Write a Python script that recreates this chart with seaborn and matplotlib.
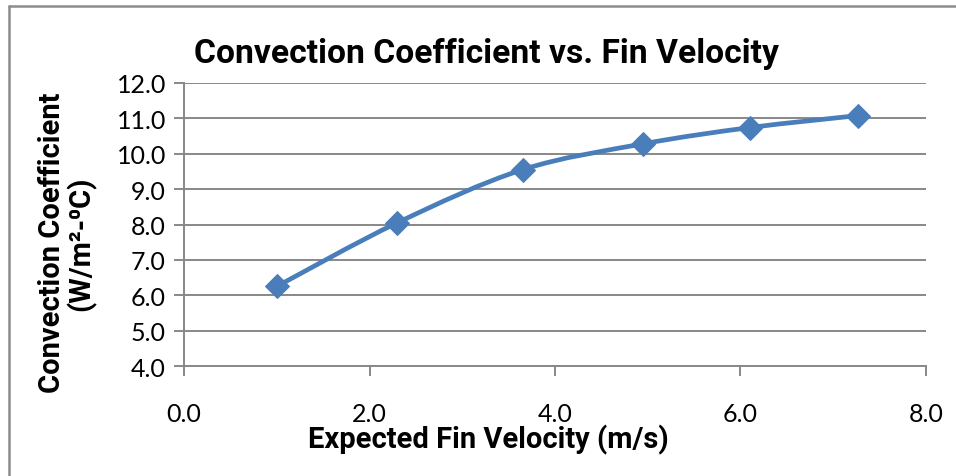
import numpy as np
import pandas as pd
import seaborn as sns
import matplotlib.pyplot as plt
from matplotlib.path import Path
from matplotlib.patches import PathPatch
from matplotlib.lines import Line2D

velocity = [1.0, 2.3, 3.65, 4.95, 6.1, 7.27]
coefficient = [6.25, 8.05, 9.55, 10.28, 10.74, 11.08]
x_ticks = [0.0, 2.0, 4.0, 6.0, 8.0]
y_ticks = [4.0, 5.0, 6.0, 7.0, 8.0, 9.0, 10.0, 11.0, 12.0]

title = "Convection Coefficient vs. Fin Velocity"
xlabel = "Expected Fin Velocity (m/s)"
ylabel = "Convection Coefficient\n(W/m\u00b2-\u2070C)"

sns.set_theme(style="white")
plt.rcParams['font.family'] = ['Lato', 'DejaVu Sans']
plt.rcParams['text.color'] = 'black'
BOLD = ['Roboto', 'DejaVu Sans']

BLUE = "#4A7EBB"
GRID = "#888888"

df = pd.DataFrame({"v": velocity, "h": coefficient})

fig = plt.figure(figsize=(9.56, 4.77), dpi=100)
ax = fig.add_axes([0.1925, 0.2306, 0.7761, 0.5933])

# smoothed line (Catmull-Rom -> Bezier), built from the data arrays
P = np.column_stack([velocity, coefficient])
verts = [P[0]]
codes = [Path.MOVETO]
n = len(P)
for i in range(n - 1):
    p0 = P[i - 1] if i > 0 else P[i]
    p1 = P[i]
    p2 = P[i + 1]
    p3 = P[i + 2] if i + 2 < n else P[i + 1]
    c1 = p1 + (p2 - p0) / 6.0
    c2 = p2 - (p3 - p1) / 6.0
    verts += [c1, c2, p2]
    codes += [Path.CURVE4] * 3
ax.add_patch(PathPatch(Path(verts, codes), facecolor="none", edgecolor=BLUE,
                       lw=3.4, capstyle="round", joinstyle="round", zorder=3))

sns.lineplot(data=df, x="v", y="h", ax=ax, marker="D", markersize=12.5,
             linestyle="none", color=BLUE, markeredgecolor=BLUE, zorder=4)

ax.set_xlim(0, 8)
ax.set_ylim(4, 12)
ax.set_xticks(x_ticks)
ax.set_yticks(y_ticks)
ax.set_xticklabels([f"{t:.1f}" for t in x_ticks])
ax.set_yticklabels([f"{t:.1f}" for t in y_ticks])

ax.yaxis.grid(True, color=GRID, lw=1.4)
ax.xaxis.grid(False)
for s in ["top", "right"]:
    ax.spines[s].set_visible(False)
for s in ["left", "bottom"]:
    ax.spines[s].set_color(GRID)
    ax.spines[s].set_linewidth(1.4)

ax.tick_params(axis="x", which="major", direction="out", length=7, width=1.4,
               color=GRID, pad=19, labelsize=18, labelcolor="black", bottom=True)
ax.tick_params(axis="y", which="major", direction="out", length=7, width=1.4,
               color=GRID, pad=6, labelsize=18, labelcolor="black", left=True)

ax.set_xlabel("")
ax.set_ylabel("")

fig.text(0.509, 0.886, title, ha="center", va="center", fontsize=24.2,
         fontweight="bold", family=BOLD, color="black")
fig.text(0.511, 0.078, xlabel, ha="center", va="center", fontsize=21,
         fontweight="bold", family=BOLD, color="black")
fig.text(0.07, 0.49, ylabel, ha="center", va="center", rotation=90, fontsize=21,
         fontweight="bold", family=BOLD, linespacing=1.0, color="black")

# outer chart frame (cropped)
fig.add_artist(Line2D([0.0095, 0.0095], [0, 0.986], transform=fig.transFigure,
                      color="#8c8c8c", lw=1.8))
fig.add_artist(Line2D([0.0095, 1.0], [0.986, 0.986], transform=fig.transFigure,
                      color="#8c8c8c", lw=1.8))

fig.savefig("out.png", dpi=100, facecolor="white")
